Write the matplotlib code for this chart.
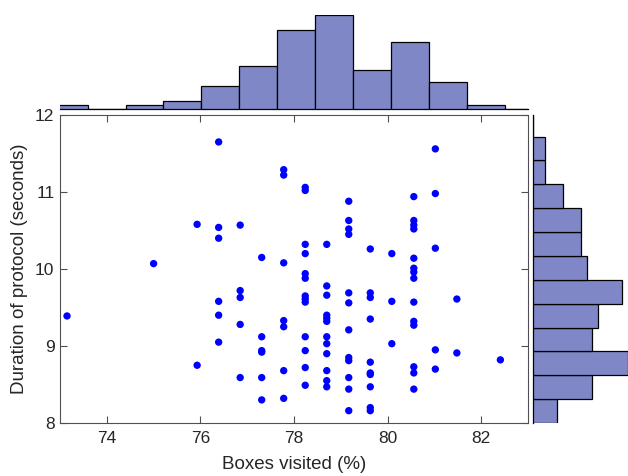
import matplotlib
matplotlib.use("Agg")
import matplotlib.pyplot as plt
import numpy as np

plt.rcParams['font.family'] = ['Liberation Sans', 'DejaVu Sans']

# Boxes visited (%) and duration (seconds) for each participant, grouped by x column
boxes_visited = (
    [73.15] * 1 + [75.00] * 1 + [75.93] * 2 + [76.39] * 6 + [76.85] * 5 + [77.31] * 6 +
    [77.78] * 7 + [78.24] * 13 + [78.70] * 12 + [79.17] * 12 + [79.63] * 10 +
    [80.09] * 3 + [80.56] * 14 + [81.02] * 5 + [81.48] * 2 + [82.41] * 1
)
duration = (
    [9.39] +
    [10.07] +
    [10.58, 8.75] +
    [11.65, 10.54, 10.40, 9.58, 9.40, 9.05] +
    [10.57, 9.72, 9.63, 9.28, 8.59] +
    [10.15, 9.12, 8.94, 8.92, 8.59, 8.30] +
    [11.29, 11.22, 10.08, 9.33, 9.25, 8.68, 8.32] +
    [11.06, 11.02, 10.32, 10.20, 9.94, 9.88, 9.65, 9.61, 9.57, 9.12, 8.94, 8.72, 8.49] +
    [10.32, 9.78, 9.66, 9.40, 9.36, 9.32, 9.12, 9.03, 8.90, 8.68, 8.55, 8.47] +
    [10.88, 10.63, 10.52, 10.45, 9.69, 9.56, 9.21, 8.85, 8.81, 8.59, 8.44, 8.16] +
    [10.26, 9.69, 9.63, 9.35, 8.79, 8.65, 8.63, 8.47, 8.20, 8.16] +
    [10.20, 9.58, 9.03] +
    [10.94, 10.63, 10.57, 10.52, 10.14, 10.01, 9.96, 9.88, 9.57, 9.32, 9.27, 8.73, 8.65, 8.44] +
    [11.56, 10.98, 10.27, 8.95, 8.70] +
    [9.61, 8.91] +
    [8.82]
)

x_edges = [72.78, 73.59, 74.40, 75.21, 76.02, 76.83, 77.64, 78.45, 79.26,
           80.07, 80.88, 81.69, 82.50, 83.31]
y_edges = [8.00, 8.31, 8.62, 8.93, 9.24, 9.55, 9.86, 10.17, 10.48, 10.79,
           11.10, 11.41, 11.72, 12.03]

x_ticks = [74, 76, 78, 80, 82]
y_ticks = [8, 9, 10, 11, 12]
x_label = "Boxes visited (%)"
y_label = "Duration of protocol (seconds)"

hist_color = '#7f87c6'
axis_color = '#505050'
text_color = '#262626'

fig = plt.figure(figsize=(6.28, 4.76), dpi=100)
ax = fig.add_axes([60/628, 53/476, 468/628, 308/476])
ax_top = fig.add_axes([60/628, 366.7/476, 468/628, 94.6/476], sharex=ax)
ax_right = fig.add_axes([533.3/628, 53/476, 94.7/628, 308/476], sharey=ax)

ax.scatter(boxes_visited, duration, s=28, color='#0000ff', edgecolors='none', zorder=3)
ax.set_xlim(73, 83)
ax.set_ylim(8, 12)
ax.set_xticks(x_ticks)
ax.set_yticks(y_ticks)
ax.tick_params(direction='in', length=5, width=0.8, color=axis_color,
               labelcolor=text_color, labelsize=12.5, top=True, right=True)
ax.tick_params(axis='x', pad=6)
ax.tick_params(axis='y', pad=4)
for sp in ax.spines.values():
    sp.set_color(axis_color)
    sp.set_linewidth(0.8)
ax.set_xlabel(x_label, fontsize=13.5, color=text_color, labelpad=7)
ax.set_ylabel(y_label, fontsize=13.5, color=text_color, labelpad=5)

ax_top.hist(boxes_visited, bins=x_edges, color=hist_color, edgecolor='black', linewidth=0.9)
ax_top.axhline(0, color='black', linewidth=0.9, clip_on=False, zorder=0)
ax_top.set_ylim(0, 24)
ax_top.axis('off')

ax_right.hist(duration, bins=y_edges, orientation='horizontal', color=hist_color,
              edgecolor='black', linewidth=0.9)
ax_right.axvline(0, color='black', linewidth=0.9, clip_on=False, zorder=0)
ax_right.set_xlim(0, 16)
ax_right.axis('off')

fig.savefig('out.png', dpi=100)
